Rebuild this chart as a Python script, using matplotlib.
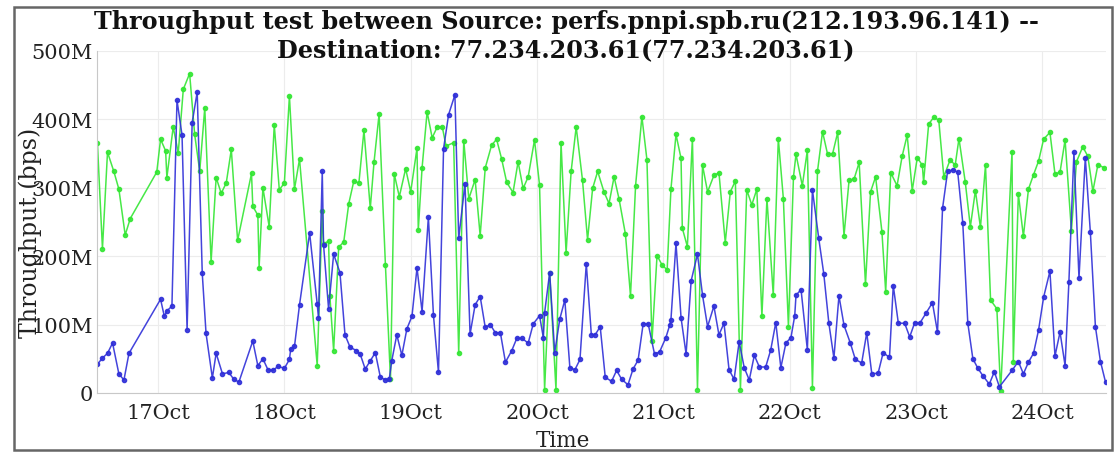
import numpy as np
import pandas as pd
import matplotlib
matplotlib.use("Agg")
import matplotlib.pyplot as plt
import matplotlib.dates as mdates
from matplotlib.ticker import FuncFormatter
from matplotlib.patches import Rectangle

# time of each test as fractional day of October, throughput in Mbps
green_days = [16.52, 16.56, 16.60, 16.65, 16.69, 16.74, 16.78, 16.99, 17.02, 17.06,
              17.07, 17.12, 17.16, 17.20, 17.25, 17.29, 17.33, 17.37, 17.42, 17.46,
              17.50, 17.54, 17.58, 17.63, 17.74, 17.75, 17.79, 17.80, 17.83, 17.88,
              17.92, 17.96, 18.00, 18.04, 18.08, 18.12, 18.26, 18.30, 18.31, 18.35,
              18.36, 18.39, 18.43, 18.47, 18.51, 18.55, 18.59, 18.63, 18.68, 18.71,
              18.75, 18.80, 18.84, 18.87, 18.91, 18.96, 19.00, 19.05, 19.06, 19.09,
              19.13, 19.17, 19.21, 19.25, 19.28, 19.34, 19.38, 19.42, 19.46, 19.51,
              19.55, 19.59, 19.64, 19.68, 19.72, 19.76, 19.81, 19.85, 19.89, 19.93,
              19.98, 20.02, 20.06, 20.10, 20.15, 20.19, 20.23, 20.27, 20.31, 20.36,
              20.40, 20.44, 20.48, 20.53, 20.57, 20.61, 20.65, 20.70, 20.74, 20.78,
              20.83, 20.87, 20.91, 20.95, 20.99, 21.03, 21.06, 21.10, 21.14, 21.15,
              21.19, 21.23, 21.27, 21.31, 21.35, 21.40, 21.44, 21.49, 21.53, 21.57,
              21.61, 21.66, 21.70, 21.74, 21.78, 21.82, 21.87, 21.91, 21.95, 21.99,
              22.03, 22.05, 22.10, 22.14, 22.18, 22.22, 22.26, 22.30, 22.34, 22.38,
              22.43, 22.47, 22.51, 22.55, 22.60, 22.64, 22.68, 22.73, 22.76, 22.80,
              22.85, 22.89, 22.93, 22.97, 23.01, 23.05, 23.06, 23.10, 23.14, 23.18,
              23.22, 23.27, 23.31, 23.34, 23.39, 23.43, 23.47, 23.51, 23.55, 23.59,
              23.64, 23.67, 23.76, 23.77, 23.81, 23.85, 23.89, 23.93, 23.97, 24.01,
              24.06, 24.10, 24.14, 24.18, 24.23, 24.27, 24.32, 24.36, 24.40, 24.44,
              24.49]
green_mbps = [366, 211, 352, 324, 298, 231, 255, 323, 371, 354,
              315, 389, 351, 444, 467, 378, 324, 417, 192, 315,
              292, 307, 356, 223, 321, 273, 260, 183, 300, 243,
              392, 297, 307, 434, 298, 342, 40, 266, 218, 222,
              142, 62, 213, 221, 277, 310, 307, 384, 270, 338,
              408, 187, 20, 320, 287, 328, 294, 358, 238, 329,
              411, 373, 389, 389, 361, 366, 58, 369, 284, 312,
              230, 329, 362, 371, 342, 308, 293, 338, 299, 316,
              370, 304, 5, 176, 5, 366, 205, 324, 389, 311,
              224, 299, 324, 294, 277, 316, 283, 232, 142, 303,
              404, 341, 76, 201, 187, 180, 298, 378, 343, 241,
              214, 372, 5, 333, 294, 318, 322, 220, 294, 310,
              5, 297, 275, 298, 112, 284, 143, 372, 284, 97,
              316, 349, 303, 355, 8, 324, 382, 349, 350, 381,
              230, 311, 313, 337, 159, 294, 316, 236, 148, 322,
              303, 346, 377, 296, 344, 333, 308, 393, 403, 399,
              316, 341, 333, 372, 308, 243, 296, 242, 333, 136,
              123, 3, 353, 46, 291, 229, 298, 319, 339, 371,
              381, 320, 323, 370, 237, 338, 360, 346, 295, 334,
              329]

blue_days = [16.52, 16.56, 16.60, 16.64, 16.69, 16.73, 16.77, 17.02, 17.05, 17.07,
             17.11, 17.15, 17.19, 17.23, 17.27, 17.31, 17.35, 17.38, 17.43, 17.46,
             17.51, 17.56, 17.60, 17.64, 17.75, 17.79, 17.83, 17.87, 17.91, 17.95,
             18.00, 18.04, 18.05, 18.08, 18.12, 18.20, 18.26, 18.27, 18.30, 18.31,
             18.35, 18.39, 18.44, 18.48, 18.52, 18.57, 18.60, 18.64, 18.68, 18.72,
             18.76, 18.80, 18.83, 18.85, 18.89, 18.93, 18.97, 19.01, 19.05, 19.09,
             19.14, 19.18, 19.22, 19.26, 19.30, 19.35, 19.38, 19.43, 19.47, 19.51,
             19.55, 19.59, 19.63, 19.67, 19.71, 19.75, 19.80, 19.84, 19.88, 19.93,
             19.97, 20.02, 20.05, 20.06, 20.10, 20.14, 20.18, 20.22, 20.26, 20.30,
             20.34, 20.39, 20.43, 20.46, 20.50, 20.54, 20.59, 20.63, 20.67, 20.72,
             20.76, 20.80, 20.84, 20.88, 20.93, 20.97, 21.02, 21.05, 21.06, 21.10,
             21.14, 21.18, 21.22, 21.27, 21.31, 21.35, 21.40, 21.44, 21.48, 21.52,
             21.56, 21.60, 21.64, 21.68, 21.72, 21.76, 21.81, 21.85, 21.89, 21.93,
             21.97, 22.01, 22.04, 22.05, 22.09, 22.14, 22.18, 22.23, 22.27, 22.31,
             22.35, 22.39, 22.43, 22.48, 22.52, 22.57, 22.61, 22.65, 22.70, 22.74,
             22.79, 22.82, 22.86, 22.91, 22.95, 22.99, 23.03, 23.08, 23.13, 23.17,
             23.21, 23.25, 23.29, 23.33, 23.37, 23.41, 23.45, 23.49, 23.53, 23.58,
             23.62, 23.66, 23.76, 23.81, 23.85, 23.89, 23.93, 23.97, 24.01, 24.06,
             24.10, 24.14, 24.18, 24.21, 24.25, 24.29, 24.34, 24.38, 24.42, 24.46,
             24.50]
blue_mbps = [42, 51, 58, 73, 28, 19, 58, 137, 112, 120,
             127, 428, 377, 92, 395, 440, 175, 87, 22, 58,
             28, 30, 20, 16, 76, 40, 50, 34, 33, 39,
             36, 49, 64, 68, 129, 234, 130, 110, 324, 217,
             123, 203, 176, 85, 67, 62, 57, 35, 47, 59,
             23, 19, 20, 47, 85, 55, 94, 112, 183, 119,
             257, 114, 30, 357, 407, 436, 226, 306, 86, 129,
             141, 96, 100, 88, 88, 45, 62, 80, 80, 73,
             101, 113, 81, 117, 176, 59, 108, 136, 37, 34,
             49, 189, 85, 85, 97, 23, 17, 33, 20, 12,
             35, 48, 101, 101, 57, 60, 81, 99, 107, 219,
             110, 57, 164, 203, 143, 97, 127, 85, 102, 34,
             20, 75, 37, 19, 55, 38, 38, 63, 103, 37,
             73, 81, 113, 143, 151, 63, 297, 226, 174, 102,
             51, 142, 99, 73, 49, 44, 88, 28, 29, 59,
             52, 157, 102, 102, 82, 103, 102, 117, 132, 89,
             270, 324, 326, 323, 249, 102, 50, 36, 25, 13,
             31, 9, 33, 46, 28, 45, 58, 92, 140, 178,
             54, 89, 40, 162, 352, 168, 344, 235, 97, 46,
             16]

title = ("Throughput test between Source: perfs.pnpi.spb.ru(212.193.96.141) --\n"
         "Destination: 77.234.203.61(77.234.203.61)")


def to_time(days):
    base = pd.Timestamp("2016-10-01")
    return base + pd.to_timedelta(np.array(days) - 1, unit="D")


plt.rcParams['font.family'] = ['DejaVu Serif']

fig = plt.figure(figsize=(11.19, 4.56), dpi=100)
ax = fig.add_axes([0.0867, 0.136, 0.9017, 0.75])

ax.plot(to_time(green_days), green_mbps, '-o', color='#33e633', lw=1.1,
        ms=3, alpha=0.9)
ax.plot(to_time(blue_days), blue_mbps, '-o', color='#2f2fd8', lw=1.1,
        ms=3, alpha=0.9)

ax.set_ylim(0, 500)
ax.set_xlim(to_time([16.517])[0], to_time([24.504])[0])
ax.set_yticks([0, 100, 200, 300, 400, 500])
ax.yaxis.set_major_formatter(FuncFormatter(lambda v, p: "0" if v == 0 else "%dM" % v))
ax.xaxis.set_major_locator(mdates.DayLocator())
ax.xaxis.set_major_formatter(mdates.DateFormatter("%d%b"))

ax.grid(True, color='#ececec', lw=0.8)
ax.tick_params(axis='y', length=0, labelsize=15, colors='#222222', pad=3)
ax.tick_params(axis='x', length=0, labelsize=15, colors='#222222', pad=7)
for s in ['top', 'right']:
    ax.spines[s].set_visible(False)
for s in ['left', 'bottom']:
    ax.spines[s].set_color('#c8c8c8')

ax.set_xlabel("Time", fontsize=15.5, color='#222222')
ax.xaxis.set_label_coords(0.462, -0.105)
ax.set_ylabel("Throughput (bps)", fontsize=17, color='#222222')
ax.yaxis.set_label_coords(-0.055, 0.47)

fig.text(0.506, 0.921, title, ha='center', va='center', fontsize=17.2,
         fontweight='bold', linespacing=1.25, color='#111111')

fig.patches.append(Rectangle((0.0125, 0.01), 0.981, 0.972, transform=fig.transFigure,
                             fill=False, edgecolor='#666666', lw=1.8))

fig.savefig("out.png", dpi=100)
